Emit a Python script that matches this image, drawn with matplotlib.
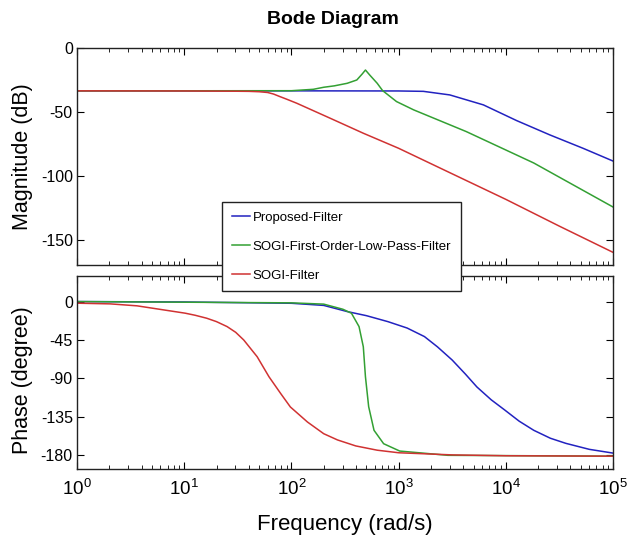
import matplotlib
matplotlib.use('Agg')
import matplotlib.pyplot as plt

# fonts
plt.rcParams['font.family'] = ['Liberation Sans', 'DejaVu Sans']
plt.rcParams['mathtext.fontset'] = 'custom'
plt.rcParams['mathtext.rm'] = 'Liberation Sans'
plt.rcParams['mathtext.it'] = 'Liberation Sans'
plt.rcParams['axes.unicode_minus'] = False

# datos (frecuencia en rad/s)
w_red_mag = [1, 10, 30, 40, 50, 60, 68, 78, 90, 112, 229, 468, 1000, 3160, 10000, 31600, 100000]
red_mag = [-33.5, -33.6, -33.8, -33.9, -34.2, -34.8, -36, -38, -40, -43.2, -54.9, -66.7, -78.5, -98.5,
           -118.5, -139.5, -160]

w_red_ph = [1, 2.04, 3.63, 6.46, 10.2, 12.6, 16.2, 20, 25.1, 30.2, 35.9, 47.9, 61.7, 79.4, 97.7, 141,
            200, 269, 398, 631, 1000, 3160, 10000, 100000]
red_ph = [-1.9, -2.7, -5, -9.8, -13.6, -16, -19.5, -23.5, -29.3, -36, -45, -64.6, -88, -107.7, -123.4,
          -141, -154.7, -162, -169, -174, -177, -179.5, -180.5, -181]

w_blue_mag = [1, 100, 1000, 1700, 3000, 6170, 12600, 25700, 52500, 100000]
blue_mag = [-33.5, -33.5, -33.6, -33.9, -36.7, -44.5, -56.8, -68, -78.5, -88.5]

w_blue_ph = [1, 10, 100, 200, 331, 500, 794, 1200, 1740, 2300, 3160, 4200, 5370, 7300, 9770, 13300,
             18200, 26000, 36300, 60000, 100000]
blue_ph = [0, -0.5, -2, -4.5, -11.7, -16.5, -23.5, -31, -41, -53, -68.5, -85, -100, -115, -127, -140,
           -150.7, -160, -166, -173, -177.4]

w_green_mag = [1, 100, 160, 200, 251, 331, 407, 457, 490, 537, 631, 708, 955, 1380, 4270, 18200, 100000]
green_mag = [-33.5, -33.4, -32.3, -30.7, -29.6, -27.6, -25, -20.3, -17.2, -21.1, -27.6, -33.3, -41.9,
             -48.4, -65.4, -90, -124.5]

w_green_ph = [1, 100, 200, 302, 363, 427, 468, 490, 525, 589, 724, 1023, 2880, 100000]
green_ph = [0, -1.5, -3, -9, -13.7, -29.3, -52.9, -88, -123, -150.7, -166.4, -175, -180, -181]

etiquetas = ['Proposed-Filter', 'SOGI-First-Order-Low-Pass-Filter', 'SOGI-Filter']
colores = ['#2222c0', '#33a033', '#d03232']

fig = plt.figure(figsize=(6.34, 5.40), dpi=100)
ax1 = fig.add_axes([0.1215, 0.509, 0.8455, 0.402])
ax2 = fig.add_axes([0.1215, 0.1315, 0.8455, 0.3575])

l1, = ax1.semilogx(w_blue_mag, blue_mag, color=colores[0], lw=1.1)
l2, = ax1.semilogx(w_green_mag, green_mag, color=colores[1], lw=1.1)
l3, = ax1.semilogx(w_red_mag, red_mag, color=colores[2], lw=1.1)

ax2.semilogx(w_blue_ph, blue_ph, color=colores[0], lw=1.1)
ax2.semilogx(w_green_ph, green_ph, color=colores[1], lw=1.1)
ax2.semilogx(w_red_ph, red_ph, color=colores[2], lw=1.1)

ax1.set_ylim(-170, 0)
ax1.set_yticks([-150, -100, -50, 0])
ax2.set_ylim(-196, 30)
ax2.set_yticks([-180, -135, -90, -45, 0])

for ax in (ax1, ax2):
    ax.set_xlim(1, 1e5)
    ax.tick_params(which='both', direction='in', top=True, right=True)
    ax.tick_params(which='major', length=5, width=0.8, pad=3)
    ax.tick_params(which='minor', length=3, width=0.6)
    ax.tick_params(axis='y', labelsize=11.5)
    for s in ax.spines.values():
        s.set_linewidth(1.0)
        s.set_color('#222222')

ax1.tick_params(labelbottom=False)
ax2.set_xticks([1, 10, 100, 1000, 1e4, 1e5])
ax2.set_xticklabels([r'$10^{0}$', r'$10^{1}$', r'$10^{2}$', r'$10^{3}$', r'$10^{4}$', r'$10^{5}$'],
                    fontsize=13.5)
ax2.tick_params(axis='x', pad=7)

ax1.set_ylabel('Magnitude (dB)', fontsize=15.5)
ax2.set_ylabel('Phase (degree)', fontsize=15.5)
ax1.yaxis.set_label_coords(-0.083, 0.5)
ax2.yaxis.set_label_coords(-0.083, 0.46)
ax2.set_xlabel('Frequency (rad/s)', fontsize=16, labelpad=11)

fig.text(0.525, 0.964, 'Bode Diagram', ha='center', va='center', fontsize=14, fontweight='bold')

leg = fig.legend([l1, l2, l3], etiquetas, loc='upper left', bbox_to_anchor=(0.350, 0.626),
                 prop={'size': 9.5}, fancybox=False, framealpha=1,
                 edgecolor='#222222', handlelength=1.4, handletextpad=0.2,
                 labelspacing=1.25, borderpad=0.75, borderaxespad=0)
leg.get_frame().set_linewidth(1.0)

plt.savefig('out.png', dpi=100)
